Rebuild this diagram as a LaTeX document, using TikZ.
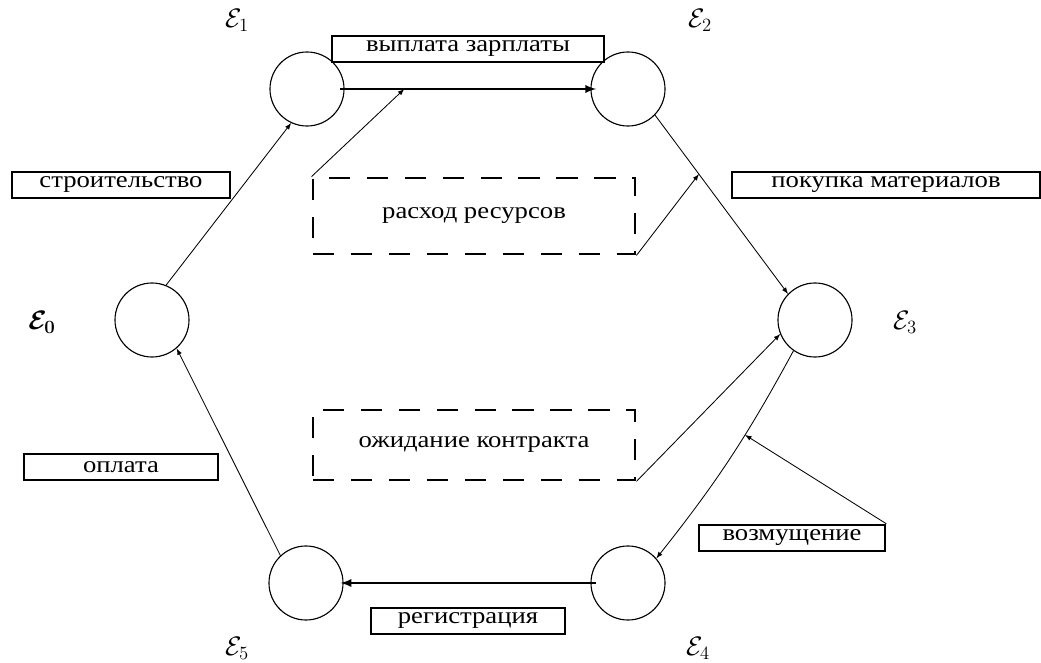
\documentclass[tikz,border=0pt]{standalone}
\usepackage{fix-cm}
\usepackage[no-math]{fontspec}
\setmainfont{Liberation Serif}[FakeStretch=1.15]
\usetikzlibrary{calc}
\tikzset{
  state/.style={draw, circle, minimum size=1.85cm, inner sep=0pt, line width=.8pt},
  namebox/.style={draw, line width=1.4pt, minimum height=.66cm, inner sep=2pt,
    font=\fontsize{16.5}{18}\selectfont},
  waitbox/.style={draw, line width=2pt, dash pattern=on 15pt off 12pt,
    minimum width=8.05cm, font=\fontsize{16.5}{18}\selectfont},
  statename/.style={font=\fontsize{19}{22}\selectfont},
  startname/.style={font=\fontsize{19}{22}\selectfont\boldmath},
  flow/.style={-latex, line width=1.6pt},
  conn/.style={-latex, line width=.6pt}
}
\begin{document}
\begin{tikzpicture}[x=0.025cm, y=-0.025cm]
\useasboundingbox (0,0) rectangle (1041,663);

\node [state] (e0) at (152,320) {};
\node [state] (e1) at (307,89) {};
\node [state] (e2) at (628,89) {};
\node [state] (e3) at (815,320) {};
\node [state] (e4) at (628,583) {};
\node [state] (e5) at (306,583) {};

\node [startname] (l0) at (42,322) {$\mathcal{E}_0$};
\node [statename] (l1) at (237,20) {$\mathcal{E}_1$};
\node [statename] (l2) at (700,20) {$\mathcal{E}_2$};
\node [statename] (l3) at (905,322) {$\mathcal{E}_3$};
\node [statename] (l4) at (698,648) {$\mathcal{E}_4$};
\node [statename] (l5) at (237,648) {$\mathcal{E}_5$};

\node [namebox, minimum width=6.8cm] (pay) at (468,49) {выплата зарплаты};
\node [namebox, minimum width=5.45cm] (build) at (121,185) {строительство};
\node [namebox, minimum width=7.72cm] (buy) at (886,185) {покупка материалов};
\node [namebox, minimum width=4.87cm] (fee) at (121,467) {оплата};
\node [namebox, minimum width=4.85cm] (reg) at (468,621) {регистрация};
\node [namebox, minimum width=4.67cm] (dist) at (792,538) {возмущение};

\node [waitbox, minimum height=1.9cm] (spend) at (474,216) {расход ресурсов};
\node [waitbox, minimum height=1.75cm] (wait) at (474,445) {ожидание контракта};

\draw [conn] (e0.68) -- (e1.245);
\draw [flow] ([xshift=-3pt]e1.east) -- coordinate[pos=.25] (payhit) ([xshift=4pt]e2.west);
\draw [conn] (spend.north west) -- (payhit);
\draw [conn] (e2.-44) -- coordinate[pos=.33] (buyhit) (e3.136);
\draw [conn] (spend.south east) -- (buyhit);
\draw [conn] (wait.south east) -- (e3.202);
\draw [conn] (e3.-125) to[bend left=5] coordinate[pos=.38] (disthit) (e4.41);
\draw [conn] (dist.north east) -- (disthit);
\draw [flow] ([xshift=4pt]e4.west) -- ([xshift=-2pt]e5.east);
\draw [conn] (e5.133) -- (e0.-49);
\end{tikzpicture}
\end{document}
